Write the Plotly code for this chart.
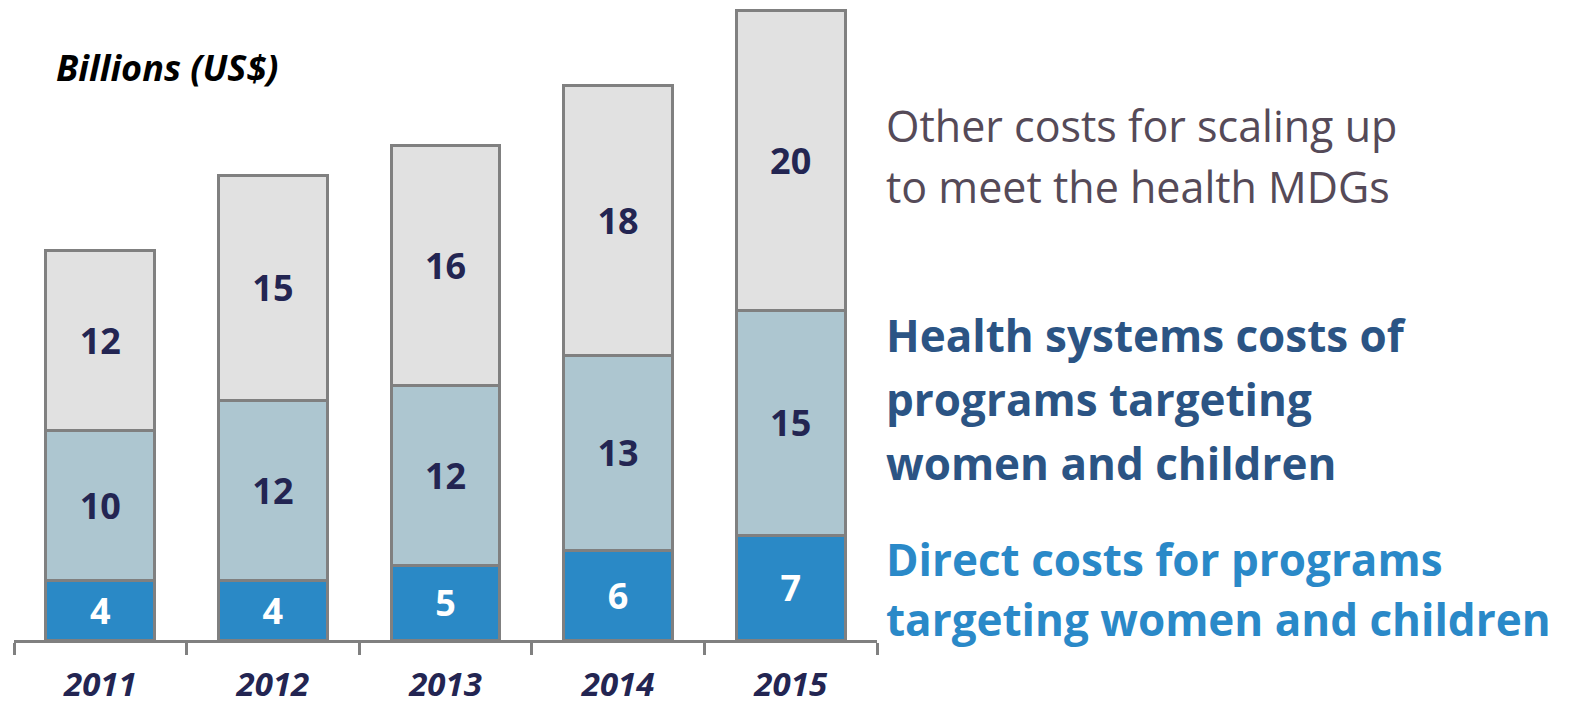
import plotly.graph_objects as go

years = ["2011", "2012", "2013", "2014", "2015"]
direct_costs = [4, 4, 5, 6, 7]
health_systems = [10, 12, 12, 13, 15]
other_costs = [12, 15, 16, 18, 20]

series = [
    ("Direct costs", direct_costs, "#2a89c6", "white"),
    ("Health systems", health_systems, "#adc6d0", "#232552"),
    ("Other costs", other_costs, "#e1e1e1", "#232552"),
]

FONT = "Open Sans"
W, H = 1581, 710
L, R, T, B = 14, 704, 0, 70
plot_h = H - T - B
plot_w = W - L - R

fig = go.Figure()
for name, vals, color, tcolor in series:
    fig.add_trace(go.Bar(
        x=years, y=vals, name=name,
        marker=dict(color=color, line=dict(color="#808080", width=3)),
        text=[str(v) for v in vals],
        textposition="inside", insidetextanchor="middle",
        textfont=dict(family=FONT, size=36, color=tcolor, weight="bold"),
        textangle=0,
        hoverinfo="skip",
    ))

def py(ypx):
    return (H - B - ypx) / plot_h

def px(xpx):
    return (xpx - L) / plot_w

annotations = []
annotations.append(dict(text="Billions (US$)", x=px(54), y=py(68), xref="paper", yref="paper",
                        xanchor="left", yanchor="middle", showarrow=False,
                        font=dict(family=FONT, size=36, color="black", weight="bold", style="italic")))

legend_blocks = [
    (["Other costs for scaling up", "to meet the health MDGs"], [125, 186], "#554a58", "normal", 43),
    (["Health systems costs of", "programs targeting", "women and children"], [335, 399, 463], "#2b5484", "bold", 44),
    (["Direct costs for programs", "targeting women and children"], [559, 619], "#2a89c8", "bold", 44),
]
for lines, ys, color, weight, size in legend_blocks:
    for line, yp in zip(lines, ys):
        annotations.append(dict(text=line, x=px(884), y=py(yp), xref="paper", yref="paper",
                                xanchor="left", yanchor="middle", showarrow=False,
                                font=dict(family=FONT, size=size, color=color, weight=weight)))

fig.update_layout(
    barmode="stack", bargap=0.37,
    width=W, height=H,
    margin=dict(l=L, r=R, t=T, b=B, pad=0),
    paper_bgcolor="white", plot_bgcolor="white",
    showlegend=False,
    annotations=annotations,
    uniformtext=dict(mode=False),
)
fig.update_xaxes(
    type="category", showline=True, linecolor="#808080", linewidth=2.5,
    ticks="outside", tickson="boundaries", ticklen=12, tickwidth=2.5, tickcolor="#808080",
    tickfont=dict(family=FONT, size=33, color="#232552", weight="bold", style="italic"),
    ticklabelstandoff=14, showgrid=False, zeroline=False, automargin=False,
)
fig.update_yaxes(range=[0, plot_h / 15.0], visible=False, showgrid=False, zeroline=False)

fig.write_html("out.html", config={"displayModeBar": False},
               post_script="document.body.style.margin='0';document.body.style.overflow='hidden';")
